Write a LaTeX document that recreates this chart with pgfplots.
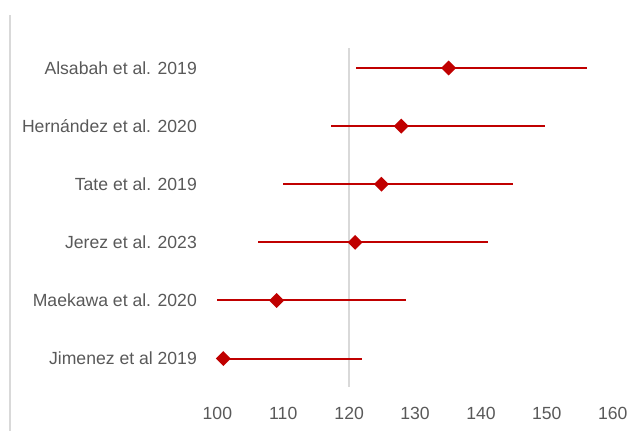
\documentclass[border=0pt]{standalone}
\usepackage{fontspec}
\setmainfont{Liberation Sans}
\usepackage{pgfplots}
\usepackage{pgfplotstable}
\pgfplotsset{compat=1.18}
\definecolor{myred}{HTML}{C00000}
\definecolor{txt}{HTML}{595959}
\definecolor{gridgray}{HTML}{D9D9D9}
% y: row position; x: estimate; lo/hi: interval limits
\pgfplotstableread{
y  x      lo     hi
6  135.1  121.1  156.1
5  127.9  117.3  149.7
4  124.9  110.0  144.9
3  120.9  106.2  141.1
2  109.0  100.0  128.7
1  100.9  100.0  121.9
}\forest
\pgfplotstablecreatecol[expr={\thisrow{hi}-\thisrow{x}}]{ep}{\forest}
\pgfplotstablecreatecol[expr={\thisrow{x}-\thisrow{lo}}]{em}{\forest}
\begin{document}
\begin{tikzpicture}
\begin{axis}[
  scale only axis,
  width=480pt, height=323.25pt,
  xmin=67.03, xmax=164.14,
  ymin=-0.244, ymax=7.170,
  axis lines*=left,
  axis line style={draw=none},
  major tick length=0pt,
  xtick={100,110,...,160},
  ytick={1,2,3,4,5,6},
  yticklabels={Jimenez et al 2019, Maekawa et al. 2020, Jerez et al. 2023, Tate et al. 2019, Hernández et al. 2020, Alsabah et al. 2019},
  /pgf/number format/assume math mode=true,
  ticklabel style={font=\fontsize{13.2pt}{15pt}\selectfont, text=txt},
  xticklabel style={anchor=center, yshift=13pt},
  yticklabel style={anchor=east, inner sep=0pt, xshift=147.75pt},
  clip=false,
]
\draw[gridgray, line width=0.9pt] (axis cs:68.54,-0.244) -- (axis cs:68.54,6.912);
\addplot[gridgray, line width=1pt] coordinates {(120,0.513) (120,6.344)};
\addplot[myred, line width=1.5pt, only marks,
  mark=square*, mark size=3.2pt, mark options={rotate=45, fill=myred, draw=myred},
  error bars/.cd, x dir=both, x explicit, error mark=none,
  error bar style={myred, line width=1.5pt}]
  table[x=x, y=y, x error plus=ep, x error minus=em]{\forest};
\end{axis}
\end{tikzpicture}
\end{document}
